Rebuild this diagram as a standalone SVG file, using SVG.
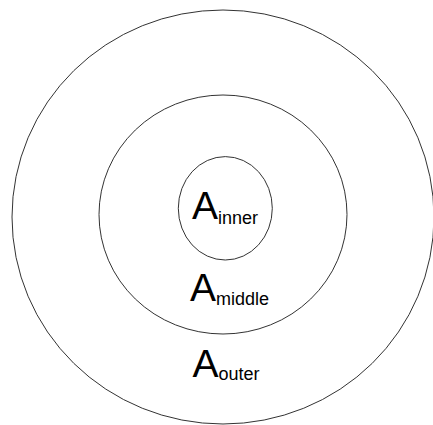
<svg xmlns="http://www.w3.org/2000/svg" width="433" height="425" viewBox="0 0 433 425">
<style>
.ring{fill:none;stroke:#333;stroke-width:1}
.big{font-family:"Liberation Sans",Arial,sans-serif;font-size:39px;fill:#000}
.sub{font-size:18px}
</style>
<rect width="433" height="425" fill="#fff"/>
<g id="outer">
<ellipse class="ring" cx="223" cy="217" rx="211" ry="207"/>
<text class="big" x="192.5" y="376.5">A<tspan class="sub" dy="3.5">outer</tspan></text>
</g>
<g id="middle">
<ellipse class="ring" cx="223" cy="214.5" rx="124" ry="119.5"/>
<text class="big" x="190" y="300.5">A<tspan class="sub" dy="4">middle</tspan></text>
</g>
<g id="inner">
<ellipse class="ring" cx="225.3" cy="208.3" rx="47" ry="51.7"/>
<text class="big" x="192" y="219">A<tspan class="sub" dy="4.5">inner</tspan></text>
</g>
<g id="connectors"/>
</svg>
